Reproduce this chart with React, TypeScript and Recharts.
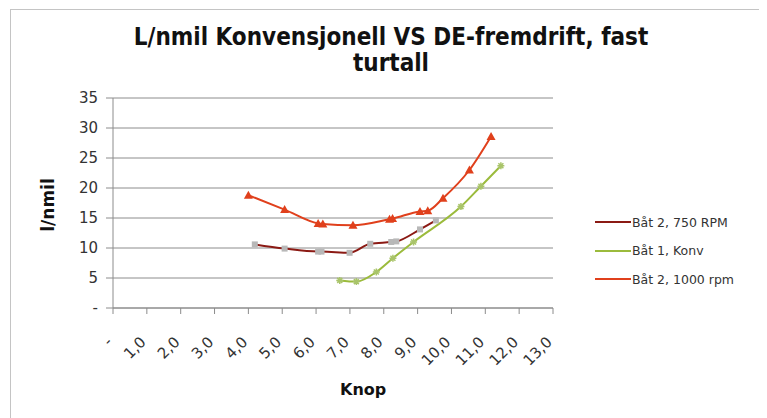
import React from 'react';
import { LineChart, Line, XAxis, YAxis, CartesianGrid } from 'recharts';

// Båt 2, 750 RPM  (knop, l/nmil)
const baat2Rpm750 = [
  { x: 4.19, y: 10.6 },
  { x: 5.07, y: 9.9 },
  { x: 6.06, y: 9.4 },
  { x: 6.16, y: 9.4 },
  { x: 6.99, y: 9.2 },
  { x: 7.6, y: 10.7 },
  { x: 8.22, y: 11.0 },
  { x: 8.37, y: 11.1 },
  { x: 9.07, y: 13.1 },
  { x: 9.54, y: 14.6 },
];

// Båt 1, Konv
const baat1Konv = [
  { x: 6.7, y: 4.6 },
  { x: 7.19, y: 4.4 },
  { x: 7.78, y: 6.0 },
  { x: 8.27, y: 8.3 },
  { x: 8.88, y: 11.0 },
  { x: 10.28, y: 16.9 },
  { x: 10.87, y: 20.3 },
  { x: 11.46, y: 23.7 },
];

// Båt 2, 1000 rpm
const baat2Rpm1000 = [
  { x: 4.0, y: 18.8 },
  { x: 5.07, y: 16.4 },
  { x: 6.06, y: 14.1 },
  { x: 6.2, y: 14.0 },
  { x: 7.09, y: 13.8 },
  { x: 8.17, y: 14.8 },
  { x: 8.26, y: 14.9 },
  { x: 9.07, y: 16.1 },
  { x: 9.3, y: 16.2 },
  { x: 9.75, y: 18.3 },
  { x: 10.53, y: 23.0 },
  { x: 11.17, y: 28.6 },
];

const xTicks = [0, 1, 2, 3, 4, 5, 6, 7, 8, 9, 10, 11, 12, 13];
const yTicks = [0, 5, 10, 15, 20, 25, 30, 35];

const DARK_RED = '#8b1a14';
const GREEN = '#9bbb3c';
const RED = '#e0401c';
const FONT = '"DejaVu Sans", Verdana, sans-serif';

const fmtX = (v: number) => (v === 0 ? '-' : v.toFixed(1).replace('.', ','));
const fmtY = (v: number) => (v === 0 ? '-' : String(v));

const XTick = ({ x, y, payload }: any) => (
  <g transform={`translate(${x},${y + 27})`}>
    <text
      textAnchor="end"
      transform="rotate(-45)"
      fontSize={15}
      fill="#333"
      fontFamily={FONT}
    >
      {fmtX(payload.value)}
    </text>
  </g>
);

const SquareDot = ({ cx, cy, index }: any) => (
  <rect key={`sq-${index}`} x={cx - 3} y={cy - 3} width={6} height={6} fill="#b8b8b8" />
);

const TriangleDot = ({ cx, cy, index }: any) => (
  <path
    key={`tr-${index}`}
    d={`M${cx},${cy - 4.5}L${cx + 4.5},${cy + 3.5}L${cx - 4.5},${cy + 3.5}Z`}
    fill={RED}
  />
);

const StarDot = ({ cx, cy, index }: any) => (
  <path
    key={`st-${index}`}
    d={`M${cx - 3.5},${cy}H${cx + 3.5}M${cx},${cy - 3.5}V${cy + 3.5}M${cx - 2.5},${cy - 2.5}L${cx + 2.5},${cy + 2.5}M${cx + 2.5},${cy - 2.5}L${cx - 2.5},${cy + 2.5}`}
    stroke="#a9c46a"
    strokeWidth={1.5}
  />
);

const legendItems = [
  { name: 'Båt 2, 750 RPM', color: DARK_RED },
  { name: 'Båt 1, Konv', color: GREEN },
  { name: 'Båt 2, 1000 rpm', color: RED },
];

export default function App() {
  return (
    <div style={{ position: 'relative', width: 759, height: 410 }}>
      <div
        style={{
          position: 'absolute',
          left: 2,
          top: 1,
          width: 757,
          height: 409,
          borderTop: '1px solid #c4c4c4',
          borderLeft: '1px solid #c4c4c4',
        }}
      />
      <div
        style={{
          position: 'absolute',
          left: 0,
          width: 766,
          top: 16,
          textAlign: 'center',
          fontFamily: '"DejaVu Sans Condensed", "DejaVu Sans", sans-serif',
          fontWeight: 'bold',
          fontSize: 24,
          lineHeight: '26px',
          color: '#111',
        }}
      >
        L/nmil Konvensjonell VS DE-fremdrift, fast
        <br />
        turtall
      </div>
      <div
        style={{
          position: 'absolute',
          left: 332,
          top: 372,
          fontFamily: FONT,
          fontWeight: 'bold',
          fontSize: 16,
          color: '#111',
        }}
      >
        Knop
      </div>
      <div
        style={{
          position: 'absolute',
          left: 40,
          top: 197,
          transform: 'translate(-50%, -50%) rotate(-90deg)',
          fontFamily: FONT,
          fontWeight: 'bold',
          fontSize: 17,
          color: '#111',
          whiteSpace: 'nowrap',
        }}
      >
        l/nmil
      </div>
      <div
        style={{
          position: 'absolute',
          left: 587,
          top: 200,
          fontFamily: FONT,
          fontSize: 12.5,
          color: '#333',
        }}
      >
        {legendItems.map((it) => (
          <div key={it.name} style={{ display: 'flex', alignItems: 'center', height: 28.5 }}>
            <span style={{ display: 'inline-block', width: 36, height: 2, background: it.color }} />
            <span style={{ marginLeft: 1 }}>{it.name}</span>
          </div>
        ))}
      </div>
      <div style={{ position: 'absolute', left: 0, top: 0 }}>
        <LineChart
          width={759}
          height={410}
          margin={{ top: 90, right: 214, bottom: 50, left: 45 }}
        >
          <CartesianGrid vertical={false} stroke="#8c8c8c" />
          <XAxis
            type="number"
            dataKey="x"
            domain={[0, 13]}
            ticks={xTicks}
            interval={0}
            height={60}
            stroke="#8c8c8c"
            tickSize={6}
            tick={<XTick />}
            allowDataOverflow
          />
          <YAxis
            type="number"
            domain={[0, 35]}
            ticks={yTicks}
            interval={0}
            width={60}
            stroke="#8c8c8c"
            tickSize={7}
            tickMargin={8}
            tickFormatter={fmtY}
            tick={{ fill: '#333', fontSize: 15, fontFamily: FONT }}
          />
          <Line
            name="Båt 2, 750 RPM"
            data={baat2Rpm750}
            dataKey="y"
            type="monotone"
            stroke={DARK_RED}
            strokeWidth={2}
            dot={<SquareDot />}
            isAnimationActive={false}
          />
          <Line
            name="Båt 1, Konv"
            data={baat1Konv}
            dataKey="y"
            type="monotone"
            stroke={GREEN}
            strokeWidth={2}
            dot={<StarDot />}
            isAnimationActive={false}
          />
          <Line
            name="Båt 2, 1000 rpm"
            data={baat2Rpm1000}
            dataKey="y"
            type="monotone"
            stroke={RED}
            strokeWidth={2}
            dot={<TriangleDot />}
            isAnimationActive={false}
          />
        </LineChart>
      </div>
    </div>
  );
}
